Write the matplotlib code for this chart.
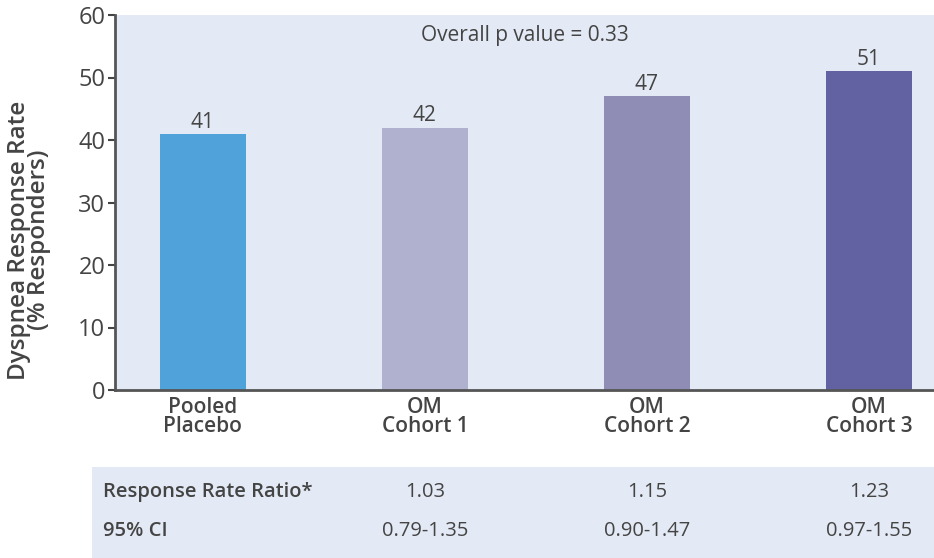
import numpy as np
import matplotlib.pyplot as plt
from matplotlib.patches import Rectangle
import matplotlib.transforms as mtrans

groups = ["Pooled\nPlacebo", "OM\nCohort 1", "OM\nCohort 2", "OM\nCohort 3"]
rates = [41, 42, 47, 51]
bar_labels = ["41", "42", "47", "51"]
ratio = ["", "1.03", "1.15", "1.23"]
ci = ["", "0.79-1.35", "0.90-1.47", "0.97-1.55"]
colors = ["#50a2da", "#b0b0cf", "#8f8db6", "#6262a2"]

bg = "#e3eaf5"
txt = "#444444"
plt.rcParams['font.family'] = ['Open Sans', 'DejaVu Sans']

fig = plt.figure(figsize=(9.34, 5.58), dpi=100)
W, H = 934, 558
ax = fig.add_axes([115/W, 1-390/H, (W-115)/W, (390-15)/H])
ax.set_facecolor(bg)

x = np.arange(len(groups))
ax.bar(x, rates, width=0.387, color=colors, zorder=2)
for xi, r, lab in zip(x, rates, bar_labels):
    ax.text(xi, r + 0.2, lab, ha='center', va='bottom', fontsize=15, color=txt)

ax.set_xlim(-0.396, 3.293)
ax.set_ylim(0, 60)
ax.set_yticks(range(0, 61, 10))
ax.tick_params(axis='y', labelsize=17, colors=txt, length=5, width=1.5, pad=2)
ax.set_xticks(x)
ax.set_xticklabels(groups, fontsize=15, color=txt, fontweight='semibold', linespacing=0.85)
ax.tick_params(axis='x', length=0, pad=5)
for s in ['top', 'right']:
    ax.spines[s].set_visible(False)
for s in ['left', 'bottom']:
    ax.spines[s].set_color('#555555')
    ax.spines[s].set_linewidth(2)

ax.text(0.5, 0.945, "Overall p value = 0.33", transform=ax.transAxes,
        ha='center', va='center', fontsize=15, color=txt)

fig.text(29/W, 1-240/H, "Dyspnea Response Rate\n(% Responders)", rotation=90,
         ha='center', va='center', fontsize=17.5, color=txt, fontweight='semibold',
         linespacing=0.82, multialignment='center')

# table below
fig.patches.append(Rectangle((92/W, 0), 1-92/W, (H-467)/H, transform=fig.transFigure,
                             facecolor=bg, edgecolor='none', zorder=0))
tr = mtrans.blended_transform_factory(ax.transData, fig.transFigure)
fig.text(103/W, 1-492/H, "Response Rate Ratio*", fontsize=14.5, fontweight='semibold',
         color=txt, va='center', ha='left')
fig.text(103/W, 1-531/H, "95% CI", fontsize=14.5, fontweight='semibold',
         color=txt, va='center', ha='left')
for xi, r, c in zip(x, ratio, ci):
    if r:
        fig.text(xi, 1-492/H, r, transform=tr, ha='center', va='center', fontsize=14.5, color=txt)
        fig.text(xi, 1-531/H, c, transform=tr, ha='center', va='center', fontsize=14.5, color=txt)

fig.savefig("out.png", dpi=100)
